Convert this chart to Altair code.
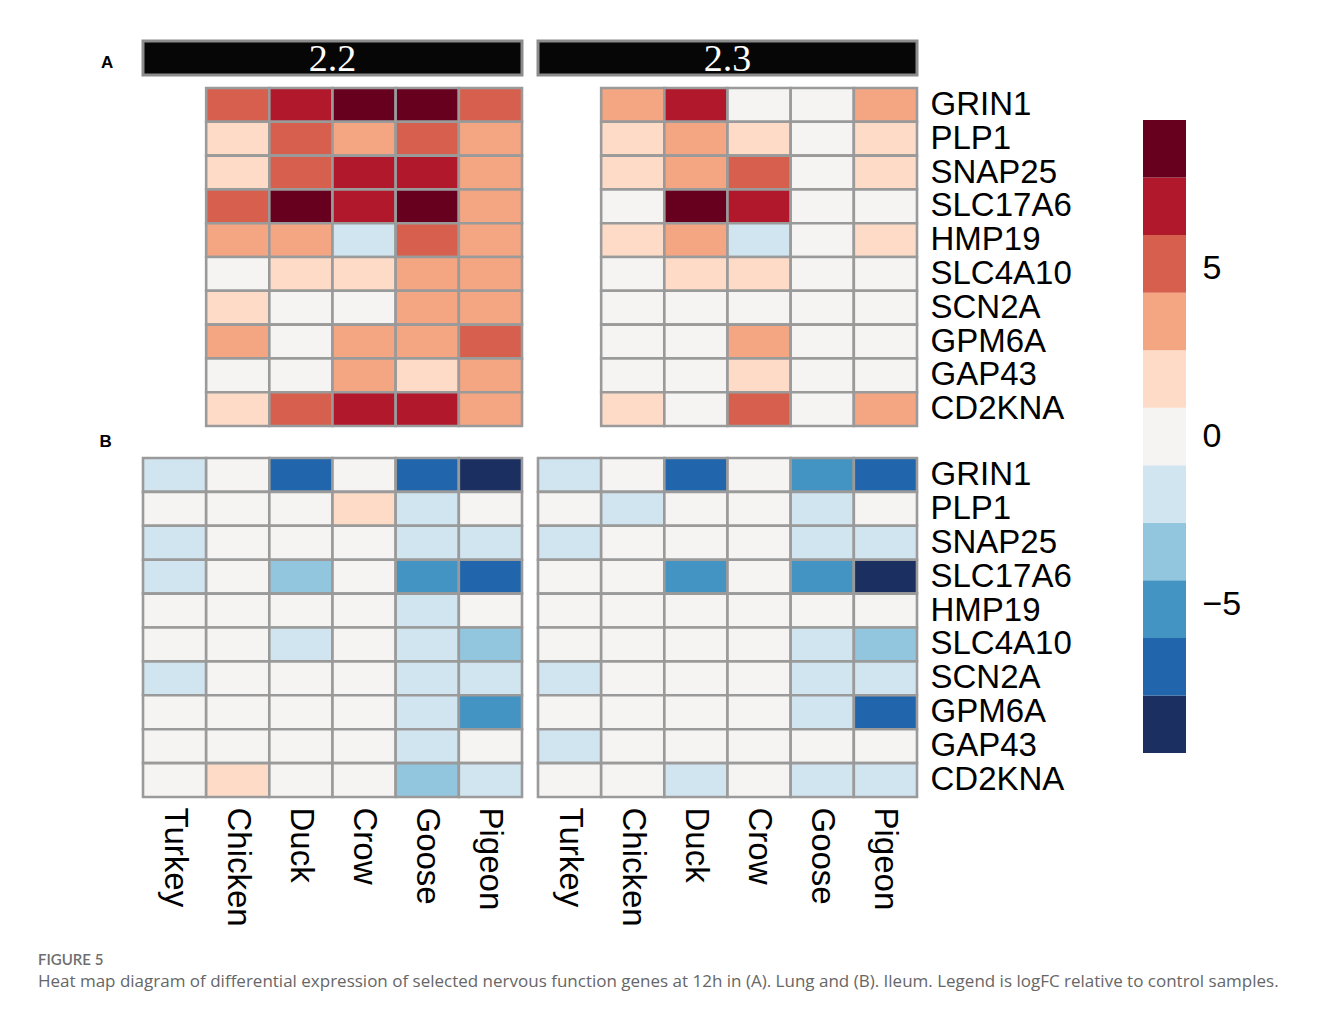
import altair as alt
import pandas as pd

species = ["Turkey", "Chicken", "Duck", "Crow", "Goose", "Pigeon"]
species_lung = ["Chicken", "Duck", "Crow", "Goose", "Pigeon"]
genes = ["GRIN1", "PLP1", "SNAP25", "SLC17A6", "HMP19",
         "SLC4A10", "SCN2A", "GPM6A", "GAP43", "CD2KNA"]
groups = ["2.2", "2.3"]

# (A) Lung, logFC, columns = species_lung
lung_22 = [
    [5.1, 6.8, 8.5, 8.5, 5.1],
    [1.7, 5.1, 3.4, 5.1, 3.4],
    [1.7, 5.1, 6.8, 6.8, 3.4],
    [5.1, 8.5, 6.8, 8.5, 3.4],
    [3.4, 3.4, -1.7, 5.1, 3.4],
    [0.0, 1.7, 1.7, 3.4, 3.4],
    [1.7, 0.0, 0.0, 3.4, 3.4],
    [3.4, 0.0, 3.4, 3.4, 5.1],
    [0.0, 0.0, 3.4, 1.7, 3.4],
    [1.7, 5.1, 6.8, 6.8, 3.4],
]
lung_23 = [
    [3.4, 6.8, 0.0, 0.0, 3.4],
    [1.7, 3.4, 1.7, 0.0, 1.7],
    [1.7, 3.4, 5.1, 0.0, 1.7],
    [0.0, 8.5, 6.8, 0.0, 0.0],
    [1.7, 3.4, -1.7, 0.0, 1.7],
    [0.0, 1.7, 1.7, 0.0, 0.0],
    [0.0, 0.0, 0.0, 0.0, 0.0],
    [0.0, 0.0, 3.4, 0.0, 0.0],
    [0.0, 0.0, 1.7, 0.0, 0.0],
    [1.7, 0.0, 5.1, 0.0, 3.4],
]
# (B) Ileum, logFC, columns = species
ileum_22 = [
    [-1.7, 0.0, -6.8, 0.0, -6.8, -8.5],
    [0.0, 0.0, 0.0, 1.7, -1.7, 0.0],
    [-1.7, 0.0, 0.0, 0.0, -1.7, -1.7],
    [-1.7, 0.0, -3.4, 0.0, -5.1, -6.8],
    [0.0, 0.0, 0.0, 0.0, -1.7, 0.0],
    [0.0, 0.0, -1.7, 0.0, -1.7, -3.4],
    [-1.7, 0.0, 0.0, 0.0, -1.7, -1.7],
    [0.0, 0.0, 0.0, 0.0, -1.7, -5.1],
    [0.0, 0.0, 0.0, 0.0, -1.7, 0.0],
    [0.0, 1.7, 0.0, 0.0, -3.4, -1.7],
]
ileum_23 = [
    [-1.7, 0.0, -6.8, 0.0, -5.1, -6.8],
    [0.0, -1.7, 0.0, 0.0, -1.7, 0.0],
    [-1.7, 0.0, 0.0, 0.0, -1.7, -1.7],
    [0.0, 0.0, -5.1, 0.0, -5.1, -8.5],
    [0.0, 0.0, 0.0, 0.0, 0.0, 0.0],
    [0.0, 0.0, 0.0, 0.0, -1.7, -3.4],
    [-1.7, 0.0, 0.0, 0.0, -1.7, -1.7],
    [0.0, 0.0, 0.0, 0.0, -1.7, -6.8],
    [-1.7, 0.0, 0.0, 0.0, 0.0, 0.0],
    [0.0, 0.0, -1.7, 0.0, -1.7, -1.7],
]

palette = ["#1b3060", "#2166ac", "#4393c3", "#92c5de", "#d1e5f0", "#f5f4f2",
           "#fddbc7", "#f4a582", "#d6604d", "#b2182b", "#67001f"]
lim = 9.4
legend_ticks = [-5, 0, 5]
caption = ("Heat map diagram of differential expression of selected nervous function "
           "genes at 12h in (A). Lung and (B). Ileum. Legend is logFC relative to control samples.")

color_scale = alt.Scale(type="quantize", domain=[-lim, lim], range=palette, nice=False)
FONT = "Liberation Sans"


def to_df(matrix, cols):
    rows = []
    for g, vals in zip(genes, matrix):
        for s, v in zip(cols, vals):
            rows.append({"gene": g, "species": s, "logFC": v})
    return pd.DataFrame(rows)


def heat(df, show_x, show_y, height, y_pad=0.0, title=None):
    x_axis = (alt.Axis(orient="bottom", labelAngle=90, labelFontSize=33, labelFont=FONT,
                       labelColor="black", ticks=False, domain=False, title=None,
                       labelPadding=10, labelLimit=400)
              if show_x else None)
    y_axis = (alt.Axis(orient="right", labelFontSize=33, labelFont=FONT, labelColor="black",
                       ticks=False, domain=False, title=None, labelPadding=13, labelLimit=400)
              if show_y else None)
    ch = alt.Chart(df).mark_rect(stroke="#9a9a9a", strokeWidth=2.6).encode(
        x=alt.X("species:N", scale=alt.Scale(domain=species, paddingInner=0, paddingOuter=0),
                axis=x_axis),
        y=alt.Y("gene:N", scale=alt.Scale(domain=genes, paddingInner=0, paddingOuter=y_pad,
                                          align=1),
                axis=y_axis),
        color=alt.Color("logFC:Q", scale=color_scale, legend=None),
    )
    props = dict(width=379, height=height)
    if title is not None:
        props["title"] = title
    return ch.properties(**props)


def header(label, title=None):
    df = pd.DataFrame({"group": [label]})
    base = alt.Chart(df).encode(
        x=alt.X("group:N", axis=None, scale=alt.Scale(paddingInner=0, paddingOuter=0)))
    box = base.mark_rect(fill="#060606", stroke="#8c8c8c", strokeWidth=3)
    txt = base.mark_text(color="white", font="Liberation Serif", fontSize=38,
                         baseline="middle", dy=2).encode(text="group:N")
    props = dict(width=379, height=34)
    if title is not None:
        props["title"] = title
    return alt.layer(box, txt).properties(**props)


title_A = alt.TitleParams("A", orient="left", angle=0, anchor="middle", align="right",
                          baseline="middle", offset=16, fontSize=17, font=FONT,
                          fontWeight="bold", color="black", dy=5)
title_B = alt.TitleParams("B", orient="top", anchor="start", align="right",
                          baseline="bottom", offset=-21, dy=8, dx=-30, fontSize=17, font=FONT,
                          fontWeight="bold", color="black")

# extra top padding on the ileum panels opens the gap between the two tissues
b_pad = 0.28
grid = alt.ConcatChart(
    concat=[
        header(groups[0], title_A),
        header(groups[1]),
        heat(to_df(lung_22, species_lung), False, False, 338),
        heat(to_df(lung_23, species_lung), False, True, 338),
        heat(to_df(ileum_22, species), True, False, 358, b_pad, title_B),
        heat(to_df(ileum_23, species), True, True, 358, b_pad),
    ],
    columns=2,
    spacing={"row": 13, "column": 16},
    bounds="flush",
    align="each",
)

# colour key
n = len(palette)
w = 2 * lim / n
key_df = pd.DataFrame({
    "lo": [-lim + i * w for i in range(n)],
    "hi": [-lim + (i + 1) * w for i in range(n)],
    "mid": [-lim + (i + 0.5) * w for i in range(n)],
})
key = alt.Chart(key_df).mark_rect().encode(
    y=alt.Y("lo:Q", scale=alt.Scale(domain=[-10.707, 11.746], nice=False, zero=False),
            axis=alt.Axis(orient="right", values=legend_ticks, labelFontSize=34, labelFont=FONT,
                          labelColor="black", ticks=False, domain=False, grid=False,
                          title=None, labelPadding=16)),
    y2="hi:Q",
    color=alt.Color("mid:Q", scale=color_scale, legend=None),
).properties(width=43, height=756)

chart = alt.hconcat(grid, key, spacing=70).properties(
    title=alt.TitleParams("FIGURE 5", subtitle=[caption], orient="bottom", anchor="start",
                          offset=26, dx=-61, fontSize=15, font="Lato", fontWeight=600,
                          color="#6e6e6e", subtitleFont="Open Sans", subtitleFontSize=17,
                          subtitleColor="#666666", subtitlePadding=6),
    padding={"left": 29, "top": 31, "right": 5, "bottom": 5},
).configure_view(stroke="transparent")

chart.save("out.html", embed_options={"renderer": "svg", "actions": False})
